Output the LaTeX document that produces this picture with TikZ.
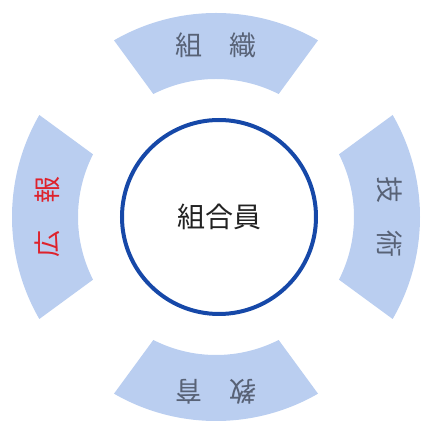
\documentclass[tikz,border=0pt]{standalone}
\usepackage{fontspec}
\newfontfamily\jpfont{Noto Sans CJK JP}
\definecolor{segblue}{RGB}{186,206,240}
\definecolor{ringblue}{RGB}{22,72,168}
\definecolor{labgray}{RGB}{88,98,118}
\definecolor{koured}{RGB}{222,34,44}
\begin{document}
\begin{tikzpicture}[x=1pt,y=1pt,
    lbl/.style={font=\jpfont\fontsize{27}{27}\selectfont, text=labgray, inner sep=0}]
    \useasboundingbox (-216,-210) rectangle (214,217);
    \foreach \d in {90,0,-90,180}
        \fill[segblue] (\d+30:204pt) arc[start angle=\d+30, end angle=\d-30, radius=204pt]
            -- (\d-27:138pt) arc[start angle=\d-27, end angle=\d+27, radius=138pt] -- cycle;

    \node[lbl] (sosiki) at (90:172pt) {組　織};
    \node[lbl, rotate=-90] (gijutsu) at (0:174pt) {技　術};
    \node[lbl, rotate=180] (kyouiku) at (-90:175pt) {教　育};
    \node[lbl, rotate=90, text=koured] (kouhou) at (180:169pt) {広　報};

    \node[circle, draw=ringblue, line width=4pt, minimum size=194pt, inner sep=0,
        font=\jpfont\fontsize{28}{28}\selectfont, text={rgb,255:red,34;green,34;blue,34}] (kumiaiin) at (3,0) {組合員};
\end{tikzpicture}
\end{document}
